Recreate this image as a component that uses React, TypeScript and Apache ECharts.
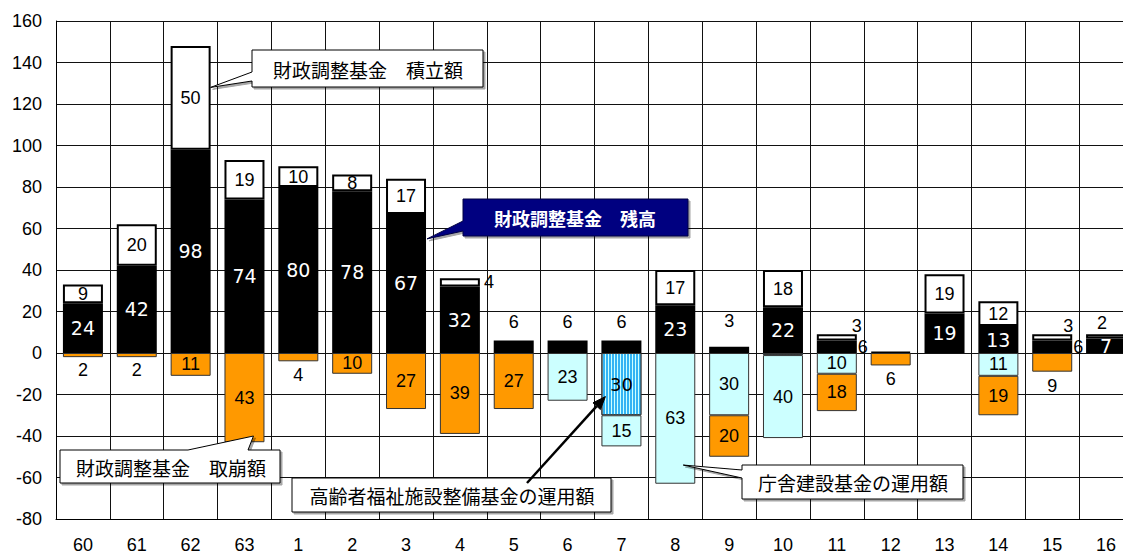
import React, { useEffect, useRef } from "react";
import * as echarts from "echarts";

// ---- data ----
const categories = ["60", "61", "62", "63", "1", "2", "3", "4", "5", "6", "7", "8", "9", "10", "11", "12", "13", "14", "15", "16"];
// 財政調整基金 残高
const balance = [24, 42, 98, 74, 80, 78, 67, 32, 6, 6, 6, 23, 3, 22, 6, 0.5, 19, 13, 6, 7];
// 財政調整基金 積立額
const reserve = [9, 20, 50, 19, 10, 8, 17, 4, 0, 0, 0, 17, 0, 18, 3, 0, 19, 12, 3, 2];
// 高齢者福祉施設整備基金の運用額
const elderlyFund = [0, 0, 0, 0, 0, 0, 0, 0, 0, 0, 30, 0, 0, 1, 0, 0, 0, 0, 0, 0];
// 庁舎建設基金の運用額
const buildingFund = [0, 0, 0, 0, 0, 0, 0, 0, 0, 23, 15, 63, 30, 40, 10, 0, 0, 11, 0, 0];
// 財政調整基金 取崩額
const withdrawal = [2, 2, 11, 43, 4, 10, 27, 39, 27, 0, 0, 0, 20, 0, 18, 6, 0, 19, 9, 0];

const yMin = -80;
const yMax = 160;
const yStep = 20;

// ---- label placement overrides (styles, not data) ----
const NUM_FONT = '"Liberation Sans", Arial, sans-serif';
const WHITE_FONT = '"DejaVu Sans", sans-serif';
const CJK_FONT = '"Noto Sans CJK JP", sans-serif';

const balanceLabelOverrides: Record<number, any> = {
  8: { position: "top", distance: 10, color: "#000", fontFamily: NUM_FONT, fontSize: 18 },
  9: { position: "top", distance: 10, color: "#000", fontFamily: NUM_FONT, fontSize: 18 },
  10: { position: "top", distance: 10, color: "#000", fontFamily: NUM_FONT, fontSize: 18 },
  12: { position: "top", distance: 17, color: "#000", fontFamily: NUM_FONT, fontSize: 18 },
  14: { position: "right", distance: 1, color: "#000", fontFamily: NUM_FONT, fontSize: 18 },
  15: { show: false },
  18: { position: "right", distance: 1, color: "#000", fontFamily: NUM_FONT, fontSize: 18 },
};
const reserveLabelOverrides: Record<number, any> = {
  7: { position: "right", distance: 4 },
  14: { position: [40, -8], align: "center", verticalAlign: "middle" },
  18: { position: [36, -8], align: "center", verticalAlign: "middle" },
  19: { position: "top", distance: 2, offset: [-4, 0] },
};
const withdrawalLabelOverrides: Record<number, any> = {
  0: { position: "bottom", distance: 4 },
  1: { position: "bottom", distance: 4 },
  4: { position: "bottom", distance: 5 },
  15: { position: "bottom", distance: 5 },
  18: { position: "bottom", distance: 5 },
};
const elderlyLabelOverrides: Record<number, any> = {
  13: { show: false },
};

function buildData(values: number[], sign: number, overrides: Record<number, any>) {
  return values.map((v, i) => {
    if (!v) return null;
    const item: any = { value: sign * v };
    if (overrides[i]) item.label = overrides[i];
    return item;
  });
}

const absFormatter = (p: any) => String(Math.abs(p.value));

export default function App() {
  const ref = useRef<HTMLDivElement>(null);

  useEffect(() => {
    if (!ref.current) return;
    const chart = echarts.init(ref.current, null, { renderer: "svg" });

    const numLabel = {
      show: true,
      position: "inside",
      color: "#000",
      fontFamily: NUM_FONT,
      fontSize: 18,
      formatter: absFormatter,
    };

    chart.setOption({
      animation: false,
      backgroundColor: "#fff",
      grid: { left: 56, right: 7, top: 21, bottom: 36, containLabel: false, outerBoundsMode: "none" },
      xAxis: {
        type: "category",
        data: categories,
        axisLine: { show: true, onZero: false, lineStyle: { color: "#000", width: 1 } },
        axisTick: { show: false },
        axisLabel: {
          color: "#000",
          fontSize: 18,
          lineHeight: 18,
          fontFamily: '"Liberation Sans", Arial, sans-serif',
          margin: 17,
        },
        splitLine: { show: true, interval: 0, lineStyle: { color: "#111", width: 1 } },
      },
      yAxis: {
        type: "value",
        min: yMin,
        max: yMax,
        interval: yStep,
        axisLine: { show: true, lineStyle: { color: "#000", width: 1 } },
        axisTick: { show: false },
        axisLabel: { color: "#000", fontSize: 18, fontFamily: '"Liberation Sans", Arial, sans-serif', margin: 14 },
        splitLine: { show: true, lineStyle: { color: "#111", width: 1 } },
      },
      series: [
        {
          name: "財政調整基金 残高",
          type: "bar",
          stack: "total",
          barWidth: 40,
          data: buildData(balance, 1, balanceLabelOverrides),
          itemStyle: { color: "#000", borderColor: "#000", borderWidth: 2 },
          label: { ...numLabel, color: "#fff", fontFamily: WHITE_FONT, fontSize: 19 },
        },
        {
          name: "財政調整基金 積立額",
          type: "bar",
          stack: "total",
          barWidth: 40,
          data: buildData(reserve, 1, reserveLabelOverrides),
          itemStyle: { color: "#fff", borderColor: "#000", borderWidth: 2 },
          label: { ...numLabel },
        },
        {
          name: "高齢者福祉施設整備基金の運用額",
          type: "bar",
          stack: "total",
          barWidth: 40,
          data: buildData(elderlyFund, -1, elderlyLabelOverrides),
          itemStyle: {
            color: "#CCFFFF",
            borderColor: "#333",
            borderWidth: 1,
            decal: {
              symbol: "rect",
              symbolSize: 1,
              dashArrayX: [2, 1],
              dashArrayY: [8, 0],
              rotation: 0,
              color: "#33B4F4",
            },
          },
          label: { ...numLabel, fontFamily: WHITE_FONT, fontSize: 18 },
        },
        {
          name: "庁舎建設基金の運用額",
          type: "bar",
          stack: "total",
          barWidth: 40,
          data: buildData(buildingFund, -1, {}),
          itemStyle: { color: "#CCFFFF", borderColor: "#333", borderWidth: 1 },
          label: { ...numLabel },
        },
        {
          name: "財政調整基金 取崩額",
          type: "bar",
          stack: "total",
          barWidth: 40,
          data: buildData(withdrawal, -1, withdrawalLabelOverrides),
          itemStyle: { color: "#FF9900", borderColor: "#333", borderWidth: 1 },
          label: { ...numLabel },
        },
      ],
    });

    const px = (cat: number, val: number, dx: number, dy = 0): number[] => {
      const p = chart.convertToPixel({ xAxisIndex: 0, yAxisIndex: 0 }, [cat, val]) as number[];
      return [p[0] + dx, p[1] + dy];
    };

    const tip1 = px(2, 128, 20);
    const tip2 = px(6, 55, 21);
    const tip3 = px(3, -40, 9);
    const tip4 = px(10, -21, -16);
    const tip5 = px(11, -54, 8);

    const arrowStart = [527, 483];
    const dxA = tip4[0] - arrowStart[0];
    const dyA = tip4[1] - arrowStart[1];
    const lenA = Math.sqrt(dxA * dxA + dyA * dyA);
    const ux = dxA / lenA;
    const uy = dyA / lenA;
    const headLen = 13;
    const headW = 5;
    const baseX = tip4[0] - ux * headLen;
    const baseY = tip4[1] - uy * headLen;
    const head = [
      [tip4[0], tip4[1]],
      [baseX - uy * headW, baseY + ux * headW],
      [baseX + uy * headW, baseY - ux * headW],
    ];

    const boxStyle = {
      fill: "#fff",
      stroke: "#000",
      lineWidth: 1,
      shadowColor: "rgba(0,0,0,0.35)",
      shadowOffsetX: 2,
      shadowOffsetY: 2,
      shadowBlur: 0,
    };
    const textStyle = (x: number, y: number, text: string, extra: any = {}) => ({
      type: "text",
      z: 101,
      style: {
        x,
        y,
        text,
        fill: "#000",
        font: `19px ${CJK_FONT}`,
        align: "center",
        verticalAlign: "middle",
        ...extra,
      },
    });

    chart.setOption({
      graphic: [
        {
          type: "polygon",
          z: 100,
          shape: { points: [[252, 50], [483, 50], [483, 87], [252, 87], [252, 81], tip1, [252, 72]] },
          style: boxStyle,
        },
        textStyle(368, 69, "財政調整基金　積立額"),
        {
          type: "polygon",
          z: 100,
          shape: { points: [[463, 199], [688, 199], [688, 236], [463, 236], [463, 231], tip2, [463, 221]] },
          style: { ...boxStyle, fill: "#000080", stroke: "#000040" },
        },
        textStyle(575, 218, "財政調整基金　残高", { fill: "#fff", font: `bold 18px ${CJK_FONT}` }),
        {
          type: "polygon",
          z: 100,
          shape: { points: [[60, 450], [188, 450], tip3, [248, 450], [280, 450], [280, 483], [60, 483]] },
          style: boxStyle,
        },
        textStyle(171, 467, "財政調整基金　取崩額"),
        {
          type: "rect",
          z: 100,
          shape: { x: 292, y: 478, width: 319, height: 34 },
          style: boxStyle,
        },
        textStyle(452, 495, "高齢者福祉施設整備基金の運用額"),
        {
          type: "line",
          z: 102,
          shape: { x1: arrowStart[0], y1: arrowStart[1], x2: baseX, y2: baseY },
          style: { stroke: "#000", lineWidth: 2.5 },
        },
        {
          type: "polygon",
          z: 102,
          shape: { points: head },
          style: { fill: "#000", stroke: "#000", lineWidth: 1 },
        },
        {
          type: "polygon",
          z: 100,
          shape: { points: [[742, 465], [963, 465], [963, 499], [742, 499], [742, 478], tip5, [742, 470]] },
          style: boxStyle,
        },
        textStyle(853, 482, "庁舎建設基金の運用額"),
      ],
    });

    return () => {
      chart.dispose();
    };
  }, []);

  return (
    <div style={{ position: "absolute", left: 0, top: 0, width: 1123, height: 555, overflow: "hidden", background: "#fff" }}>
      <div ref={ref} style={{ width: 1140, height: 555 }} />
    </div>
  );
}
